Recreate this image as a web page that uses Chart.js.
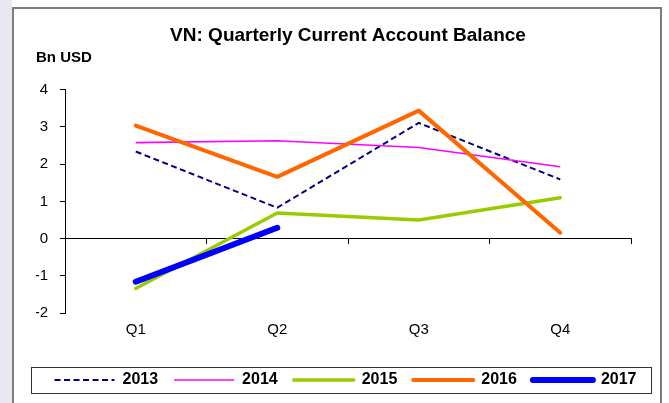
<!DOCTYPE html>
<html>
<head>
<meta charset="utf-8">
<title>VN: Quarterly Current Account Balance</title>
<script src="https://cdn.jsdelivr.net/npm/chart.js@4.4.1/dist/chart.umd.min.js"></script>
<style>
  html, body { margin: 0; padding: 0; }
  body {
    width: 669px; height: 403px; overflow: hidden; position: relative;
    background: linear-gradient(to right, #e8e8f3 12px, #ffffff 12px);
  }
  #frame {
    position: absolute; left: 12px; top: 7px; width: 650px; height: 420px;
    box-sizing: border-box; border: 2px solid #7d7d7d; background: #fff;
  }
  #chart { position: absolute; left: 0; top: 0; }
</style>
</head>
<body>
<div id="frame"></div>
<canvas id="chart" width="669" height="403"></canvas>
<script>
// Quarterly current account balance, Bn USD
const quarters = ['Q1', 'Q2', 'Q3', 'Q4'];
const ca2013 = [2.34, 0.83, 3.11, 1.59];
const ca2014 = [2.58, 2.63, 2.45, 1.93];
const ca2015 = [-1.34, 0.69, 0.50, 1.10];
const ca2016 = [3.04, 1.66, 3.44, 0.16];
const ca2017 = [-1.16, 0.29, null, null];

const yMin = -2;
const yMax = 4;
const yStep = 1;

Chart.defaults.font.family = "Arial, 'Liberation Sans', sans-serif";
Chart.defaults.color = '#000';

// thin frame around the legend row, like the Excel legend box
const legendFrame = {
    id: 'legendFrame',
    afterDraw(chart) {
        const lg = chart.legend;
        if (!lg || !lg.legendHitBoxes || !lg.legendHitBoxes.length) return;
        const hb = lg.legendHitBoxes[0];
        const { ctx } = chart;
        ctx.save();
        ctx.strokeStyle = '#333';
        ctx.lineWidth = 1;
        const x1 = Math.round(lg.left - 5) + 0.5;
        const x2 = Math.round(lg.right - 4) + 0.5;
        const y1 = Math.round(hb.top - 5) + 0.5;
        const y2 = Math.round(hb.top + hb.height + 5) + 0.5;
        ctx.strokeRect(x1, y1, x2 - x1, y2 - y1);
        ctx.restore();
    }
};

const line = (label, data, color, width, order, extra) => Object.assign({
    label: label,
    data: data,
    borderColor: color,
    backgroundColor: color,
    borderWidth: width,
    pointRadius: 0,
    pointHoverRadius: 0,
    tension: 0,
    fill: false,
    order: order,
    xAxisID: 'x',
    yAxisID: 'y'
}, extra || {});

new Chart(document.getElementById('chart'), {
    type: 'line',
    data: {
        labels: quarters,
        datasets: [
            line('2013', ca2013, '#000080', 2, 5, { borderDash: [6, 3.5] }),
            line('2014', ca2014, '#ff00ff', 1.6, 4),
            line('2015', ca2015, '#99cc00', 3.5, 3, { borderCapStyle: 'round', borderJoinStyle: 'round' }),
            line('2016', ca2016, '#ff6600', 4, 2, { borderCapStyle: 'round', borderJoinStyle: 'round' }),
            line('2017', ca2017, '#0000ff', 6, 1, { borderCapStyle: 'round', borderJoinStyle: 'round' })
        ]
    },
    options: {
        responsive: false,
        devicePixelRatio: 1,
        animation: false,
        layout: { padding: { left: 36, right: 14, top: 0, bottom: 5 } },
        plugins: {
            title: {
                display: true,
                text: 'VN: Quarterly Current Account Balance',
                fullSize: false,
                font: { size: 19, weight: 'bold' },
                color: '#000',
                padding: { top: 24, bottom: 0 }
            },
            subtitle: {
                display: true,
                text: 'Bn USD',
                align: 'start',
                font: { size: 15, weight: 'bold' },
                color: '#000',
                padding: { top: 2, bottom: 23 }
            },
            legend: {
                position: 'bottom',
                labels: {
                    usePointStyle: true,
                    pointStyle: 'line',
                    pointStyleWidth: 60,
                    padding: 16,
                    font: { size: 16, weight: 'bold' },
                    color: '#000',
                    sort: (a, b) => a.datasetIndex - b.datasetIndex,
                    // keep the dash of 2013 in the legend sample
                    generateLabels: (chart) => Chart.defaults.plugins.legend.labels.generateLabels(chart).map(item => {
                        const ds = chart.data.datasets[item.datasetIndex];
                        item.lineDash = ds.borderDash || [];
                        item.lineCap = ds.borderCapStyle || 'butt';
                        return item;
                    })
                }
            },
            tooltip: { enabled: false }
        },
        scales: {
            x: {
                type: 'category',
                position: { y: 0 },
                offset: true,
                grid: { offset: true, drawOnChartArea: false, drawTicks: true, tickLength: 5, color: '#000', lineWidth: 1 },
                border: { display: true, color: '#000', width: 1 },
                ticks: { display: false }
            },
            xq: {
                type: 'category',
                position: 'bottom',
                offset: true,
                grid: { display: false, drawTicks: false },
                border: { display: false },
                ticks: { font: { size: 15 }, color: '#000', padding: 8 },
                afterFit: (s) => { s.height = 43; }
            },
            y: {
                type: 'linear',
                position: 'left',
                min: yMin,
                max: yMax,
                ticks: { stepSize: yStep, font: { size: 15 }, color: '#000', padding: 12 },
                grid: { drawOnChartArea: false, drawTicks: true, tickLength: 5, color: '#000' },
                border: { display: true, color: '#000', width: 1 },
                afterFit: (s) => { s.width = 29; }
            },
            pad: {
                type: 'linear',
                position: 'right',
                display: true,
                grid: { display: false },
                border: { display: false },
                ticks: { display: false },
                afterFit: (s) => { s.width = 24; }
            }
        }
    },
    plugins: [legendFrame]
});
</script>
</body>
</html>
